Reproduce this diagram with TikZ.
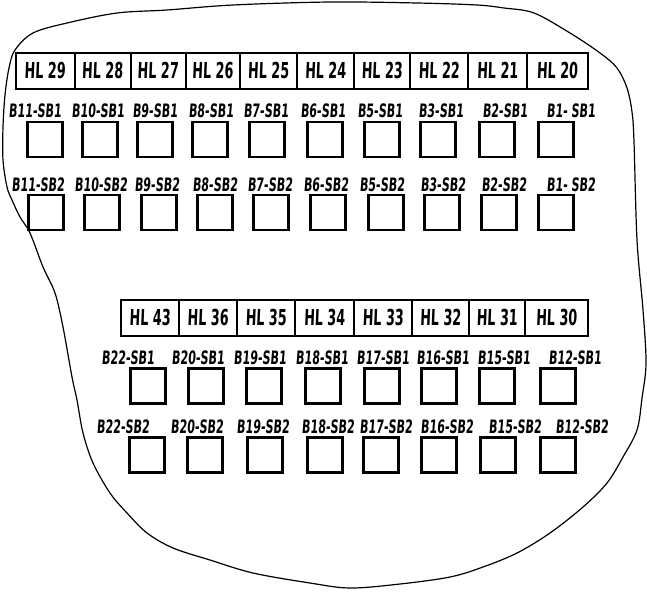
\documentclass[tikz,border=0pt]{standalone}
\usepackage{fontspec}
\newfontfamily\labfont{DejaVu Sans}[FakeStretch=0.6,FakeSlant=0.08]
\newfontfamily\hlfont{DejaVu Sans}[FakeStretch=0.58,FakeSlant=0.04]
\begin{document}
\begin{tikzpicture}[x=1pt,y=-1pt,
  hlcell/.style={draw,line width=2pt,inner sep=0pt,minimum height=36pt,
    font=\hlfont\bfseries\fontsize{22}{24}\selectfont},
  sq/.style={draw,line width=2.5pt,inner sep=0pt,minimum size=35pt},
  lab/.style={inner sep=0pt,font=\labfont\bfseries\fontsize{18.5}{20}\selectfont},
  outline/.style={line width=1.2pt,line join=round}]
\useasboundingbox (0,0) rectangle (647,592);
% outline
\draw[outline] plot[smooth cycle,tension=0.55] coordinates {
 (15,50) (33,33) (67,23) (117,13) (167,10) (233,5) (330,2) (417,3) (477,5) (504,8) (534,13)
 (570,33) (600,53) (617,68) (627,88) (632,112) (634,142) (637,240) (643,310) (646,363)
 (642,398) (637,430) (623,457) (607,483) (583,507) (550,533) (517,553) (483,567) (450,577)
 (400,584) (350,588) (310,583) (253,573) (210,560) (173,548) (147,533) (127,513) (110,493)
 (93,463) (83,433) (77,400) (72,377) (63,327) (55,293) (43,267) (30,233) (20,217) (12,200)
 (7,187) (3,160) (3,127) (5,95) (9,68)};
% top HL row
\foreach \m/\w/\t [count=\i] in {45/59/HL 29,102.5/56/HL 28,158/55/HL 27,212.75/54.5/HL 26,
  268.5/57/HL 25,325.5/57/HL 24,382/56/HL 23,439/58/HL 22,497.5/59/HL 21,557.25/60.5/HL 20}
  \node[hlcell,minimum width=\w pt] (ht\i) at (\m,70.5) {\t};
% bottom HL row
\foreach \m/\w/\t [count=\i] in {150/58/HL 43,208/58/HL 36,266/58/HL 35,324.5/59/HL 34,
  383/58/HL 33,440.5/57/HL 32,497/56/HL 31,556.5/63/HL 30}
  \node[hlcell,minimum width=\w pt] (hb\i) at (\m,317.5) {\t};
% row 1
\foreach \lx/\sx/\t [count=\i] in {35/45/B11-SB1,98/100/B10-SB1,155/155/B9-SB1,211/210/B8-SB1,
  266/267/B7-SB1,323/325/B6-SB1,380/382/B5-SB1,441/438/B3-SB1,505/497/B2-SB1,571/556/B1- SB1}
  {\node[lab] (la\i) at (\lx,111) {\t};
   \node[sq] (sa\i) at (\sx,139.5) {};}
% row 2
\foreach \lx/\sx/\t [count=\i] in {38/46/B11-SB2,101/102/B10-SB2,157/159/B9-SB2,215/215/B8-SB2,
  270/271/B7-SB2,326/328/B6-SB2,382/386/B5-SB2,443/442/B3-SB2,504/499/B2-SB2,571/556/B1- SB2}
  {\node[lab] (lb\i) at (\lx,185) {\t};
   \node[sq] (sb\i) at (\sx,212.5) {};}
% row 3
\foreach \lx/\sx/\t [count=\i] in {128/148/B22-SB1,198/206/B20-SB1,260/264/B19-SB1,322/323/B18-SB1,
  383/382/B17-SB1,443/439/B16-SB1,504/497/B15-SB1,575/558/B12-SB1}
  {\node[lab] (lc\i) at (\lx,358) {\t};
   \node[sq] (sc\i) at (\sx,386) {};}
% row 4
\foreach \lx/\sx/\t [count=\i] in {123/147/B22-SB2,197/205/B20-SB2,263/265/B19-SB2,328/325/B18-SB2,
  386/381/B17-SB2,447/439/B16-SB2,515/498/B15-SB2,582/558/B12-SB2}
  {\node[lab] (ld\i) at (\lx,427) {\t};
   \node[sq] (sd\i) at (\sx,455) {};}
\end{tikzpicture}
\end{document}
